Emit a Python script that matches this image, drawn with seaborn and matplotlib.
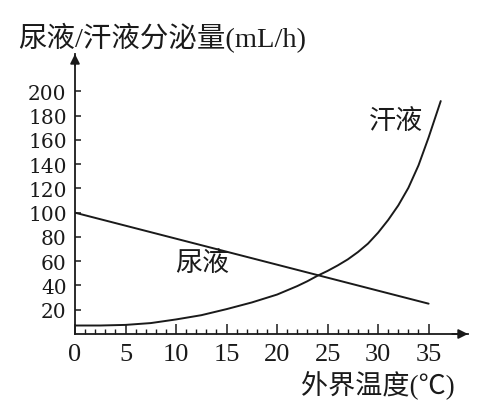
import matplotlib
matplotlib.use("Agg")
import matplotlib.pyplot as plt
import seaborn as sns
import pandas as pd

# ---- data ----
temp_sweat = [0, 2.5, 5, 7.5, 10, 12.5, 15, 17.5, 20, 22, 23, 24, 25, 26, 27, 28, 29,
              30, 31, 32, 33, 34, 35, 36.2]
sweat_ml = [7, 7, 7.5, 9, 12, 15.5, 20.5, 26, 32.5, 39.5, 43.5, 48, 52, 56.5, 61.5, 67.5, 74.5,
            83.5, 94, 106, 120.5, 139, 162, 192]
temp_urine = [0, 35]
urine_ml = [100, 25]
x_ticks = [0, 5, 10, 15, 20, 25, 30, 35]
x_minor = list(range(0, 36))
y_ticks = [20, 40, 60, 80, 100, 120, 140, 160, 180, 200]

title_text = "尿液/汗液分泌量(mL/h)"
xlabel_text = "外界温度(℃)"
urine_label = "尿液"
sweat_label = "汗液"

sns.set_theme(style="ticks")
plt.rcParams["font.family"] = ["Liberation Serif", "Noto Sans CJK SC", "DejaVu Sans"]

W, H = 480, 406
fig = plt.figure(figsize=(W / 100, H / 100), dpi=100)
fig.patch.set_facecolor("white")
ax = fig.add_axes([75 / W, (H - 335) / H, (468 - 75) / W, (335 - 55) / H])
ax.set_facecolor("white")

df_s = pd.DataFrame({"t": temp_sweat, "v": sweat_ml})
df_u = pd.DataFrame({"t": temp_urine, "v": urine_ml})
line_col = "#1a1a1a"
sns.lineplot(data=df_s, x="t", y="v", ax=ax, color=line_col, lw=1.4, sort=True)
sns.lineplot(data=df_u, x="t", y="v", ax=ax, color=line_col, lw=1.4, sort=True)

ax.set_xlim(0, 38.9)
ax.set_ylim(0, 230.8)
ax.set_xlabel("")
ax.set_ylabel("")

for s in ["top", "right"]:
    ax.spines[s].set_visible(False)
for s in ["left", "bottom"]:
    ax.spines[s].set_color(line_col)
    ax.spines[s].set_linewidth(1.3)

ax.set_xticks(x_ticks)
ax.set_xticks(x_minor, minor=True)
ax.set_yticks(y_ticks)
ax.set_xticklabels([str(v) for v in x_ticks])
ax.set_yticklabels([str(v) for v in y_ticks])

ax.tick_params(axis="x", which="major", direction="in", length=7.5, width=1.1,
               pad=6.5, labelsize=19, color=line_col, labelcolor=line_col)
ax.tick_params(axis="x", which="minor", direction="in", length=3.8, width=1.0,
               color=line_col)
ax.tick_params(axis="y", which="major", direction="in", length=4.5, width=1.1,
               pad=6, labelsize=14.5, color=line_col, labelcolor=line_col)
ax.tick_params(axis="y", which="minor", left=False)

for lab in ax.get_xticklabels():
    lab.set_fontfamily(["Liberation Serif"])
for lab in ax.get_yticklabels():
    lab.set_fontfamily(["DejaVu Serif"])

# axis arrows
ax.annotate("", xy=(1.0, 0), xytext=(0.96, 0), xycoords="axes fraction",
            arrowprops=dict(arrowstyle="-|>", color=line_col, lw=1.3,
                            mutation_scale=14, shrinkA=0, shrinkB=0))
ax.annotate("", xy=(0, 1.0), xytext=(0, 0.96), xycoords="axes fraction",
            arrowprops=dict(arrowstyle="-|>", color=line_col, lw=1.3,
                            mutation_scale=14, shrinkA=0, shrinkB=0))

cjk = ["Liberation Serif", "Noto Sans CJK SC", "DejaVu Sans"]
ax.text(12.6, 58.5, urine_label, ha="center", va="center", fontsize=19.5,
        family=cjk, color=line_col)
ax.text(31.8, 175, sweat_label, ha="center", va="center", fontsize=19.5,
        family=cjk, color=line_col)

fig.text(18 / W, 1 - 38 / H, title_text, ha="left", va="center", fontsize=20.5,
         family=cjk, color=line_col)
fig.text(455 / W, 1 - 386 / H, xlabel_text, ha="right", va="center", fontsize=19.5,
         family=cjk, color=line_col)

fig.savefig("out.png", dpi=100, facecolor="white")
